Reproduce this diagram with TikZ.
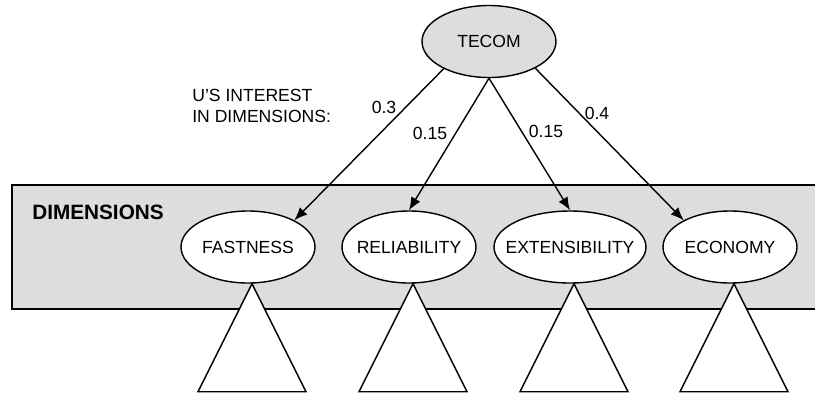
\documentclass[tikz,border=0pt]{standalone}
\usepackage{fontspec}
\setmainfont{Liberation Sans}
\usetikzlibrary{arrows.meta, shapes.geometric}

\definecolor{panelgray}{RGB}{221,221,221}

\tikzset{
	dimnode/.style = {draw = black, thick, shape = ellipse, fill = white,
					  minimum width = 2.68cm, minimum height = 1.44cm,
					  inner xsep = -5mm, inner ysep = 0pt},
	subtree/.style = {draw = black, thick, fill = white},
	weight/.style  = {inner sep = 0pt},
	>={Latex[length=2.6mm, width=2.1mm]}
}

\begin{document}
\begin{tikzpicture}
	\useasboundingbox (0,0) rectangle (16.3,-7.84);

	% panel holding the dimensions
	\draw[panelgray, fill = panelgray] (0.24,-3.70) rectangle (16.45,-6.18);
	\draw[black, line width = 1.1pt] (16.45,-3.70) -- (0.24,-3.70) -- (0.24,-6.18) -- (16.45,-6.18);
	\draw (0.64,-4.24) node[anchor = west, inner sep = 0pt, font = \fontsize{11.8}{14}\selectfont\bfseries](dimlabel) {DIMENSIONS};

	\draw (9.78,-0.83) node[dimnode, fill = panelgray](tecom) {TECOM};

	\draw (4.96,-4.94) node[dimnode](fast) {FASTNESS};
	\draw (8.18,-4.94) node[dimnode](reli) {RELIABILITY};
	\draw (11.40,-4.94) node[dimnode, minimum width = 3.04cm](exte) {EXTENSIBILITY};
	\draw (14.60,-4.94) node[dimnode](econ) {ECONOMY};

	% one subtree below each dimension
	\draw[subtree] ([xshift = 0.08cm]fast.south) -- ++(-1.08,-2.16) -- ++(2.16,0) -- cycle;
	\draw[subtree] ([xshift = 0.08cm]reli.south) -- ++(-1.08,-2.16) -- ++(2.16,0) -- cycle;
	\draw[subtree] ([xshift = 0.08cm]exte.south) -- ++(-1.08,-2.16) -- ++(2.16,0) -- cycle;
	\draw[subtree] ([xshift = 0.08cm]econ.south) -- ++(-1.08,-2.16) -- ++(2.16,0) -- cycle;

	\draw[->, thick] (tecom.211) -- (fast.30);
	\draw[->, thick] (tecom.south) -- (reli.north);
	\draw[->, thick] (tecom.south) -- (exte.north);
	\draw[->, thick] (tecom.330) -- (econ.150);

	\draw (3.84,-2.11) node[anchor = west, inner sep = 0pt, align = left](interest) {U’S INTEREST\\IN DIMENSIONS:};
	\draw (7.68,-2.14) node[weight](wfast) {0.3};
	\draw (8.60,-2.66) node[weight](wreli) {0.15};
	\draw (10.92,-2.62) node[weight](wexte) {0.15};
	\draw (11.94,-2.26) node[weight](wecon) {0.4};
\end{tikzpicture}
\end{document}
